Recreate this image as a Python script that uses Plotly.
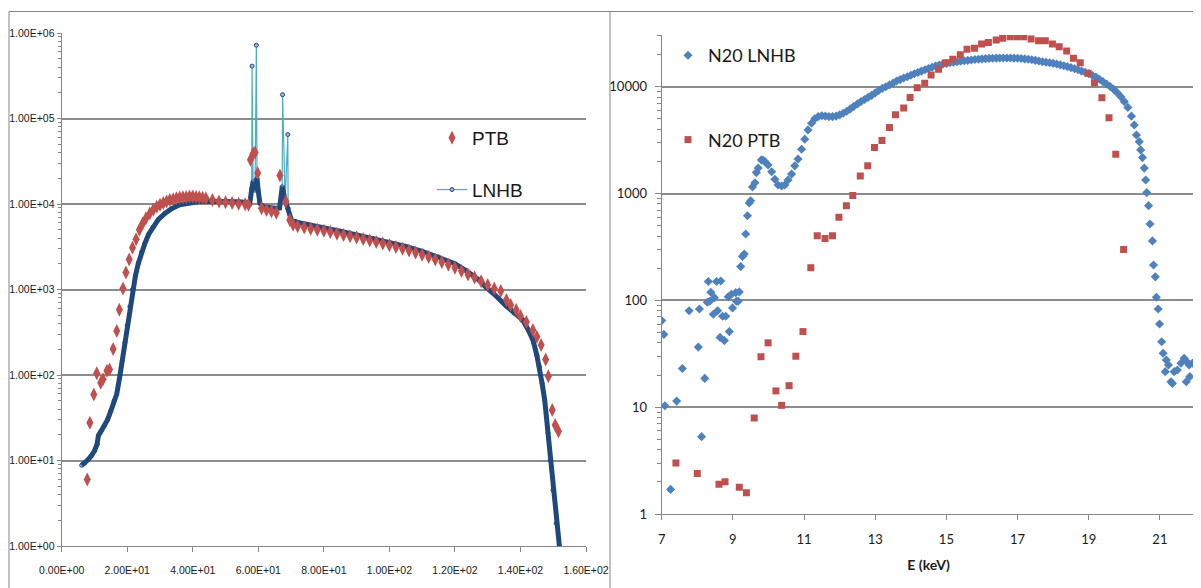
import plotly.graph_objects as go

# ---------------- Left panel data ----------------
ptb_e = [7.8, 8.6, 9.8, 10.7, 11.9, 12.6, 13.8, 14.6, 15.7, 16.8, 17.6, 18.7, 19.6, 20.6,
         21.6, 22.7, 23.7, 24.7, 25.7, 26.9, 28.0, 29.0, 30.0, 31.0, 32.0, 33.0, 34.0,
         35.0, 36.0, 37.0, 38.0, 39.0, 40.0, 41.0, 42.0, 43.0, 44.0, 46.0, 48.0, 50.0,
         52.0, 54.0, 56.0, 57.0, 57.6, 58.4, 59.0, 59.8, 61.0, 62.5, 64.0, 65.5, 66.6,
         68.4, 69.6, 70.6, 72, 74, 76, 78, 80, 82, 84, 86, 88, 90, 92, 94, 96, 98, 100,
         102, 104, 106, 108, 110, 112, 114, 116, 118, 120, 122, 124, 126, 128, 130, 132,
         134, 135.7, 137, 138.7, 140, 141.8, 143.8, 145, 146.3, 147.7, 148.5, 149.7,
         150.6, 151.6]
ptb_v = [6.0, 27.7, 59, 105, 81, 89, 112, 116, 202, 328, 580, 1030, 1580, 2240,
         3070, 3870, 4990, 5930, 6800, 7770, 8600, 9300, 9800, 10300, 10700, 11100, 11400,
         11700, 11900, 12000, 12100, 12200, 12200, 12100, 12000, 11800, 11700, 11100, 10700, 10500,
         10300, 10100, 9900, 9800, 33000, 38600, 40000, 23000, 8900, 8500, 8200, 7900, 21500,
         10700, 6500, 5700, 5500, 5300, 5150, 5000, 4850, 4700, 4500, 4350, 4200, 4050, 3900,
         3750, 3600, 3450, 3300, 3150, 3000, 2850, 2700, 2550, 2400, 2250, 2100, 1950, 1800,
         1650, 1500, 1380, 1250, 1130, 1030, 960, 754, 660, 577, 490, 418, 337, 280, 224,
         152, 97, 39, 26, 22]

lnhb_e = [6.1, 7, 8, 9, 10, 10.8, 11.2, 12, 13, 14, 15, 16, 16.8, 17.8, 18.5, 19.3, 20.0,
          20.8, 21.6, 22.5, 23.4, 24.4, 25.4, 26.5, 27.9, 29.5, 31.5, 33.5, 36, 39, 42,
          45, 48, 51, 54, 56.5, 57.4, 58.0, 58.4, 59.0, 59.6, 60.0, 60.5, 61.5, 63, 65,
          66.5, 67.3, 68.2, 69.1, 70.1, 72, 75, 80, 85, 90, 95, 100, 105, 110, 115, 120,
          123.5, 127, 129.6, 132, 135.7, 138, 140.7, 142.5, 143.8, 145, 145.8, 146.6,
          147.4, 148.4, 149.1, 149.9, 150.9, 151.9]
lnhb_v = [8.8, 9.3, 10.2, 11.3, 13, 15.5, 19.5, 22, 25.5, 30, 38, 50, 60, 100, 148, 240, 380,
          630, 1000, 1450, 2030, 2750, 3470, 4400, 5400, 6600, 7770, 8800, 9800, 10400, 10700,
          10800, 10800, 10700, 10600, 10400, 10200, 15000, 18200, 14500, 20000, 14000, 10200, 9300, 9100, 8900,
          9000, 15900, 11000, 8900, 6500, 6100, 5800, 5250, 4800, 4350, 3950, 3550, 3200, 2800, 2400, 2000,
          1650, 1320, 1050, 880, 640, 530, 440, 330, 257, 170, 125, 80,
          51, 21, 10, 4.5, 1.84, 0.98]

spike_e = [58.1, 59.4, 67.4, 69.0]
spike_v = [410000, 720000, 190000, 65000]

left_y_vals = [1, 10, 100, 1000, 10000, 100000, 1000000]
left_y_text = ["1.00E+00", "1.00E+01", "1.00E+02", "1.00E+03", "1.00E+04", "1.00E+05", "1.00E+06"]
left_x_vals = [0, 20, 40, 60, 80, 100, 120, 140, 160]
left_x_text = ["0.00E+00", "2.00E+01", "4.00E+01", "6.00E+01", "8.00E+01",
               "1.00E+02", "1.20E+02", "1.40E+02", "1.60E+02"]

# ---------------- Right panel data ----------------
n20_lnhb_e = [7.0, 7.06, 7.09, 7.25, 7.42, 7.58, 7.77, 8.03, 8.06, 8.12, 8.21, 8.28, 8.31, 8.35,
              8.38, 8.45, 8.48, 8.54, 8.57, 8.64, 8.66, 8.71, 8.76, 8.8, 8.87, 8.9, 8.96, 8.99,
              9.08, 9.1, 9.15, 9.18, 9.22, 9.27, 9.32, 9.36, 9.41, 9.46, 9.5, 9.55, 9.62, 9.66,
              9.71, 9.8, 9.85, 9.9, 9.99, 10.09, 10.18, 10.27, 10.37, 10.46, 10.55, 10.65, 10.74,
              10.83, 10.93, 11.02, 11.11, 11.21,
              11.3, 11.4, 11.5, 11.6, 11.7, 11.8, 11.9, 12.0, 12.1, 12.2, 12.3, 12.4, 12.5, 12.6,
              12.7, 12.8, 12.9, 13.0, 13.1, 13.2, 13.3, 13.4, 13.5, 13.6, 13.7, 13.8, 13.9, 14.0,
              14.1, 14.2, 14.3, 14.4, 14.5, 14.6, 14.7, 14.8, 14.9, 15.0, 15.1, 15.2, 15.3, 15.4,
              15.5, 15.6, 15.7, 15.8, 15.9, 16.0, 16.1, 16.2, 16.3, 16.4, 16.5, 16.6, 16.7, 16.8,
              16.9, 17.0, 17.1, 17.2, 17.3, 17.4, 17.5, 17.6, 17.7, 17.8, 17.9, 18.0, 18.1, 18.2,
              18.3, 18.4, 18.5, 18.6, 18.7, 18.8, 18.9, 19.0, 19.1, 19.2, 19.3, 19.4, 19.5, 19.6,
              19.7, 19.8, 19.9, 20.0, 20.1, 20.2,
              20.28, 20.34, 20.42, 20.46, 20.51, 20.56, 20.6, 20.63, 20.68, 20.72, 20.79, 20.82,
              20.87, 20.9, 20.95, 20.99, 21.05, 21.09, 21.15, 21.18, 21.24, 21.31, 21.35, 21.4,
              21.49, 21.59, 21.68, 21.74, 21.75, 21.82, 21.84, 21.91, 21.97]
n20_lnhb_v = [64.6, 48, 10.3, 1.7, 11.4, 23, 80, 36.5, 83, 5.3, 18.6, 96, 150, 98,
              119, 74, 106, 150, 80, 45, 152, 71, 42, 71, 108, 51, 114, 85,
              118, 98, 98, 120, 207, 258, 272, 418, 620, 814, 855, 1150, 1260, 1570,
              1730, 2065, 2050, 1995, 1850, 1600, 1360, 1200, 1175, 1200, 1340, 1520, 1815,
              2100, 2600, 3230, 3940, 4550,
              5000, 5250, 5350, 5300, 5250, 5250, 5300, 5450, 5650, 5900, 6200, 6550, 6900, 7250,
              7600, 7950, 8300, 8750, 9200, 9650, 10000, 10400, 10800, 11300, 11650, 12050, 12400, 12800,
              13200, 13600, 14000, 14400, 14800, 15200, 15600, 15950, 16250, 16500, 16750, 16950, 17150, 17350,
              17500, 17650, 17800, 17950, 18100, 18200, 18300, 18400, 18450, 18500, 18550, 18550, 18550, 18550,
              18500, 18450, 18350, 18200, 18050, 17850, 17650, 17400, 17150, 16950, 16750, 16550, 16300, 16000,
              15700, 15400, 15100, 14750, 14400, 14000, 13650, 13250, 12800, 12300, 11750, 11150, 10600, 10050,
              9450, 8800, 8070, 7250, 6400, 5300,
              4380, 3530, 3060, 2560, 2170, 1730, 1340, 1020, 770, 519, 360, 214,
              166, 107, 83, 60, 41, 32, 21.5, 27.6, 24.8, 17.3, 16.7, 21.5,
              22.3, 25.8, 28.7, 17.3, 26.7, 24.8, 19.3, 25.8, 26]

n20_ptb_e = [7.4, 8.0, 8.61, 8.78, 9.18, 9.38, 9.6, 9.79, 9.99, 10.21, 10.37, 10.58, 10.77, 10.97,
             11.19, 11.37, 11.59, 11.8, 11.98, 12.19, 12.37, 12.58, 12.79, 12.98, 13.19, 13.4, 13.57,
             13.8, 13.98, 14.18, 14.39, 14.57, 14.78, 14.97, 15.18, 15.39, 15.58, 15.79, 15.99, 16.18,
             16.4, 16.58, 16.79, 16.98, 17.17, 17.38, 17.59, 17.78, 17.98, 18.17, 18.38, 18.57, 18.76,
             18.98, 19.16, 19.37, 19.57, 19.76, 19.98]
n20_ptb_v = [3.0, 2.4, 1.9, 2.0, 1.78, 1.58, 7.9, 29.7, 40, 14.2, 10.4, 15.9, 30, 51,
             202, 403, 380, 403, 600, 770, 960, 1460, 1820, 2690, 3130, 4140, 5450,
             6320, 7910, 9800, 10800, 12900, 14600, 16800, 18100, 19900, 22400, 22900, 25100, 25900,
             27400, 28400, 29400, 29400, 29400, 28000, 26900, 26900, 25100, 23700, 21600, 18500, 16800,
             13400, 10900, 7900, 5130, 2330, 300]

right_y_vals = [1, 10, 100, 1000, 10000]
right_y_text = ["1", "10", "100", "1000", "10000"]

# ---------------- Styles ----------------
RED = "#C0504D"
DARK = "#1F497D"
CYAN = "#4BACC6"
BLUE = "#4F81BD"
GRID = "#8C8C8C"
AXIS = "#868686"
NARROW = "Liberation Sans Narrow, Arial Narrow, Liberation Sans, sans-serif"
CAL = "Lato, Carlito, Calibri, sans-serif"

fig = go.Figure()

merged = sorted(zip(lnhb_e + spike_e, lnhb_v + spike_v))
fig.add_trace(go.Scatter(
    x=[p[0] for p in merged], y=[p[1] for p in merged], mode="lines+markers",
    name="LNHB", legendgroup="b", legendrank=2, legend="legend",
    line=dict(color=CYAN, width=1.2),
    marker=dict(symbol="circle", size=4, color="#9DB7D5", line=dict(color=DARK, width=1)),
    xaxis="x", yaxis="y"))
fig.add_trace(go.Scatter(
    x=lnhb_e, y=lnhb_v, mode="lines", showlegend=False,
    line=dict(color=DARK, width=5), xaxis="x", yaxis="y", hoverinfo="skip"))
fig.add_trace(go.Scatter(
    x=ptb_e, y=ptb_v, mode="markers", name="PTB", legendgroup="a", legendrank=1,
    legend="legend",
    marker=dict(symbol="diamond-tall", size=10, color=RED),
    xaxis="x", yaxis="y"))

fig.add_trace(go.Scatter(
    x=n20_lnhb_e, y=n20_lnhb_v, mode="markers", name="N20 LNHB", legendgroup="c",
    legend="legend2", marker=dict(symbol="diamond", size=7, color=BLUE),
    xaxis="x2", yaxis="y2"))
fig.add_trace(go.Scatter(
    x=n20_ptb_e, y=n20_ptb_v, mode="markers", name="N20 PTB", legendgroup="d",
    legend="legend2", marker=dict(symbol="square", size=7, color=RED),
    xaxis="x2", yaxis="y2"))

# The page body has an 8 px margin, so the figure is placed 8 px in from the window.
OFF = 8
W, H = 1201 - OFF, 588 - OFF


def px(x):
    return (x - OFF) / W


def py(y):
    return 1 - (y - OFF) / H


left_minor = [m * 10 ** d for d in range(0, 6) for m in range(2, 10)]
right_minor = [m * 10 ** d for d in range(0, 5) for m in range(2, 10) if m * 10 ** d < 31000]

fig.update_layout(
    width=W, height=H, autosize=False,
    margin=dict(l=0, r=0, t=0, b=0, autoexpand=False),
    paper_bgcolor="white", plot_bgcolor="white",
    font=dict(family=CAL, color="#1a1a1a"),
    xaxis=dict(domain=[px(61.7), px(586)], range=[0, 160], tickmode="array",
               tickvals=left_x_vals, ticktext=left_x_text, showgrid=False, zeroline=False,
               showline=True, linecolor=AXIS, linewidth=1.2, ticks="outside", ticklen=5,
               tickcolor=AXIS, ticklabelstandoff=9, automargin=False,
               tickfont=dict(family=NARROW, size=10.5, color="#1a1a1a"), anchor="y"),
    yaxis=dict(domain=[py(546), py(33)], type="log", range=[0, 6], tickmode="array",
               tickvals=left_y_vals, ticktext=left_y_text, showgrid=True, gridcolor=GRID,
               gridwidth=1.5, zeroline=False, showline=True, linecolor=AXIS, linewidth=1.2,
               ticks="outside", ticklen=4, tickcolor=AXIS, automargin=False,
               ticklabelstandoff=0,
               minor=dict(tickmode="array", tickvals=left_minor, ticks="outside", ticklen=3,
                          tickcolor=AXIS, showgrid=False),
               tickfont=dict(family=NARROW, size=10.5, color="#1a1a1a"), anchor="x"),
    xaxis2=dict(domain=[px(661.7), px(1195.5)], range=[7, 22], tick0=7, dtick=2,
                showgrid=False, zeroline=False, showline=True, linecolor=AXIS, linewidth=1.2,
                ticks="outside", ticklen=5, tickcolor=AXIS, ticklabelstandoff=8,
                automargin=False,
                tickfont=dict(family=CAL, size=13, color="#1a1a1a"),
                title=dict(text="<b>E (keV)</b>", standoff=14,
                           font=dict(family=CAL, size=14, color="#1a1a1a")),
                anchor="y2"),
    yaxis2=dict(domain=[py(514), py(35)], type="log", range=[0, 4.484], tickmode="array",
                tickvals=right_y_vals, ticktext=right_y_text, showgrid=True, gridcolor=GRID,
                gridwidth=1.5, zeroline=False, showline=True, linecolor=AXIS, linewidth=1.2,
                ticks="outside", ticklen=6, tickcolor=AXIS, ticklabelstandoff=5,
                automargin=False,
                minor=dict(tickmode="array", tickvals=right_minor, ticks="outside", ticklen=4,
                           tickcolor=AXIS, showgrid=False),
                tickfont=dict(family=CAL, size=13, color="#1a1a1a"), anchor="x2"),
    legend=dict(x=px(432), y=py(119), xanchor="left", yanchor="top",
                bgcolor="rgba(0,0,0,0)", tracegroupgap=24,
                font=dict(family=NARROW, size=19, color="#1a1a1a")),
    legend2=dict(x=px(668), y=py(37), xanchor="left", yanchor="top",
                 bgcolor="rgba(0,0,0,0)", tracegroupgap=58,
                 font=dict(family=CAL, size=18, color="#1a1a1a")),
    showlegend=True,
    shapes=[
        dict(type="line", xref="paper", yref="paper", x0=px(9), x1=px(9), y0=py(11.5), y1=0,
             line=dict(color=AXIS, width=1)),
        dict(type="line", xref="paper", yref="paper", x0=px(9), x1=1, y0=py(11.5), y1=py(11.5),
             line=dict(color=AXIS, width=1)),
        dict(type="line", xref="paper", yref="paper", x0=px(610), x1=px(610), y0=py(11.5), y1=0,
             line=dict(color=AXIS, width=1)),
    ],
)

fig.write_html("out.html")
